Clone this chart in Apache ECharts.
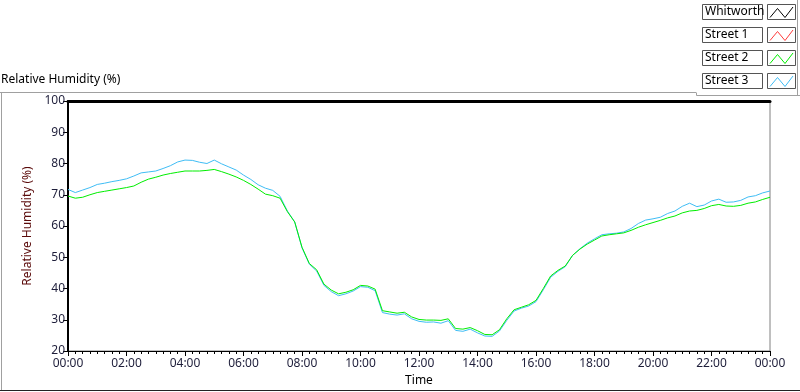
<!DOCTYPE html>
<html>
<head>
<meta charset="utf-8">
<script src="https://cdn.jsdelivr.net/npm/echarts@6/dist/echarts.min.js"></script>
<style>
  html, body { margin: 0; padding: 0; background: #ffffff; }
  #chart { width: 800px; height: 392px; }
</style>
</head>
<body>
<div id="chart"></div>
<script>
// readings every 15 min, hours after midnight
const hours = [
  0, 0.25, 0.5, 0.75, 1, 1.25, 1.5, 1.75, 2, 2.25, 2.5, 2.75,
  3, 3.25, 3.5, 3.75, 4, 4.25, 4.5, 4.75, 5, 5.25, 5.5, 5.75,
  6, 6.25, 6.5, 6.75, 7, 7.25, 7.5, 7.75, 8, 8.25, 8.5, 8.75,
  9, 9.25, 9.5, 9.75, 10, 10.25, 10.5, 10.75, 11, 11.25, 11.5, 11.75,
  12, 12.25, 12.5, 12.75, 13, 13.25, 13.5, 13.75, 14, 14.25, 14.5, 14.75,
  15, 15.25, 15.5, 15.75, 16, 16.25, 16.5, 16.75, 17, 17.25, 17.5, 17.75,
  18, 18.25, 18.5, 18.75, 19, 19.25, 19.5, 19.75, 20, 20.25, 20.5, 20.75,
  21, 21.25, 21.5, 21.75, 22, 22.25, 22.5, 22.75, 23, 23.25, 23.5, 23.75, 24
]
// no trace visible for these two in the picture
const whitworth = []
const street1 = []
const street2 = [
  69.6, 68.9, 69.2, 70.0, 70.7, 71.1, 71.5, 71.9, 72.3, 72.8, 74.0, 75.0,
  75.6, 76.3, 76.8, 77.2, 77.6, 77.6, 77.6, 77.8, 78.1, 77.4, 76.6, 75.7,
  74.6, 73.3, 71.8, 70.2, 69.7, 68.9, 64.6, 61.3, 53.2, 48.0, 46.0, 41.4,
  39.5, 38.3, 38.8, 39.6, 41.0, 40.8, 39.8, 32.9, 32.5, 32.1, 32.4, 30.9,
  30.1, 29.9, 29.9, 29.8, 30.3, 27.2, 27.0, 27.5, 26.5, 25.3, 25.2, 26.8,
  30.3, 33.2, 34.0, 34.8, 36.2, 40.0, 44.0, 45.8, 47.2, 50.6, 52.6, 54.2,
  55.5, 56.8, 57.2, 57.5, 57.8, 58.6, 59.6, 60.4, 61.1, 61.8, 62.6, 63.2,
  64.2, 64.8, 65.0, 65.6, 66.5, 66.9, 66.4, 66.3, 66.6, 67.3, 67.7, 68.5, 69.2
]
const street3 = [
  71.7, 70.7, 71.5, 72.3, 73.3, 73.7, 74.2, 74.6, 75.1, 76.0, 77.0, 77.3,
  77.6, 78.4, 79.3, 80.5, 81.1, 81.0, 80.4, 80.0, 81.1, 79.9, 78.9, 77.9,
  76.3, 74.9, 73.2, 72.1, 71.4, 69.5, 64.8, 61.3, 53.0, 47.8, 45.6, 41.0,
  39.0, 37.7, 38.3, 39.2, 40.6, 40.4, 39.3, 32.3, 31.8, 31.5, 31.9, 30.3,
  29.5, 29.2, 29.3, 28.9, 29.7, 26.6, 26.3, 27.0, 25.8, 24.8, 24.7, 26.4,
  29.8, 32.8, 33.7, 34.4, 35.8, 39.6, 43.6, 45.5, 47.0, 50.6, 52.7, 54.5,
  55.9, 57.2, 57.5, 57.7, 58.1, 59.2, 60.8, 61.9, 62.3, 62.8, 64.0, 64.8,
  66.3, 67.3, 66.2, 66.7, 68.0, 68.6, 67.6, 67.7, 68.2, 69.3, 69.7, 70.6, 71.2
]
const seriesNames = ['Whitworth', 'Street 1', 'Street 2', 'Street 3']
const seriesColors = ['#000000', '#ff3b3b', '#00ee00', '#3fbdf5']
const seriesData = [whitworth, street1, street2, street3]

const font = 'Noto Sans'
const chart = echarts.init(document.getElementById('chart'))

function pad (n) {
  return (n < 10 ? '0' : '') + n
}

// legend drawn like the instrument panel: name box + little zigzag box
const legendItems = []
seriesNames.forEach(function (name, i) {
  const y0 = 4.5 + 23 * i
  legendItems.push({
    type: 'rect',
    shape: { x: 702.5, y: y0, width: 60, height: 15 },
    style: { fill: '#ffffff', stroke: '#555555', lineWidth: 1 }
  })
  legendItems.push({
    type: 'text',
    x: 705,
    y: y0 + 1,
    style: { text: name, fill: '#000000', font: '12px "' + font + '"' }
  })
  legendItems.push({
    type: 'rect',
    shape: { x: 767.5, y: y0, width: 28, height: 15 },
    style: { fill: '#ffffff', stroke: '#555555', lineWidth: 1 }
  })
  legendItems.push({
    type: 'polyline',
    shape: { points: [[770, y0 + 13], [777.5, y0 + 4], [785, y0 + 13], [793, y0 + 2.5]] },
    style: { stroke: seriesColors[i], lineWidth: 1, fill: null }
  })
})

const frame = [
  { type: 'line', shape: { x1: 0, y1: 92.5, x2: 696, y2: 92.5 }, style: { stroke: '#a0a0a0', lineWidth: 1 } },
  { type: 'line', shape: { x1: 696.5, y1: 92.5, x2: 696.5, y2: 95.5 }, style: { stroke: '#a0a0a0', lineWidth: 1 } },
  { type: 'line', shape: { x1: 696.5, y1: 95.5, x2: 800, y2: 95.5 }, style: { stroke: '#a0a0a0', lineWidth: 1 } },
  { type: 'line', shape: { x1: 797.5, y1: 0, x2: 797.5, y2: 95.5 }, style: { stroke: '#a0a0a0', lineWidth: 1 } },
  { type: 'line', shape: { x1: 1.5, y1: 92.5, x2: 1.5, y2: 390.5 }, style: { stroke: '#a0a0a0', lineWidth: 1 } },
  { type: 'line', shape: { x1: 0, y1: 390.5, x2: 800, y2: 390.5 }, style: { stroke: '#222222', lineWidth: 1 } }
]

const option = {
  animation: false,
  backgroundColor: '#ffffff',
  textStyle: { fontFamily: font },
  title: {
    text: 'Relative Humidity (%)',
    left: 1,
    top: 74,
    padding: 0,
    textStyle: { fontSize: 12, fontWeight: 'normal', color: '#000000', fontFamily: font }
  },
  graphic: frame.concat(legendItems),
  grid: {
    left: 68,
    right: 30,
    top: 101,
    bottom: 39,
    show: true,
    borderColor: '#808080',
    borderWidth: 1,
    backgroundColor: '#ffffff'
  },
  xAxis: [{
    type: 'value',
    min: 0,
    max: 24,
    interval: 2,
    name: 'Time',
    nameLocation: 'middle',
    nameGap: 24,
    nameTextStyle: { color: '#000000', fontSize: 12 },
    axisLine: { onZero: false, lineStyle: { color: '#000000', width: 1 } },
    axisTick: { inside: false, length: 5, lineStyle: { color: '#000000' } },
    minorTick: { show: true, splitNumber: 8, length: 3, lineStyle: { color: '#000000' } },
    axisLabel: {
      margin: 7,
      color: '#1e1e3a',
      fontSize: 12,
      formatter: function (v) { return pad(v % 24) + ':00' }
    },
    splitLine: { show: false }
  }, {
    type: 'value',
    position: 'top',
    min: 0,
    max: 24,
    axisLine: { show: true, onZero: false, lineStyle: { color: '#000000', width: 3 } },
    axisTick: { show: false },
    axisLabel: { show: false },
    splitLine: { show: false }
  }],
  yAxis: {
    type: 'value',
    min: 20,
    max: 100,
    interval: 10,
    name: 'Relative Humidity (%)',
    nameLocation: 'middle',
    nameGap: 33,
    nameTextStyle: { color: '#5a0a0a', fontSize: 12 },
    axisLine: { show: true, onZero: false, lineStyle: { color: '#000000', width: 2 } },
    axisTick: { show: true, inside: false, length: 5, lineStyle: { color: '#000000' } },
    axisLabel: { margin: 3, color: '#1e1e3a', fontSize: 12 },
    splitLine: { show: false }
  },
  series: seriesNames.map(function (name, i) {
    return {
      name: name,
      type: 'line',
      showSymbol: false,
      z: i === 2 ? 4 : 3,
      lineStyle: { color: seriesColors[i], width: 1 },
      itemStyle: { color: seriesColors[i] },
      data: seriesData[i].map(function (v, k) { return [hours[k], v] })
    }
  })
}

chart.setOption(option)
</script>
</body>
</html>
